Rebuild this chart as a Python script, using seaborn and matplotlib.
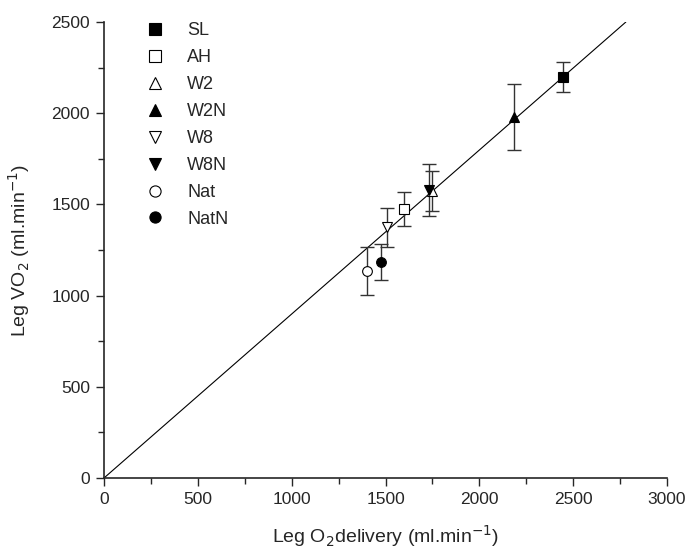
"""
Leg VO2 vs leg O2 delivery, group means with SD bars
"""

import numpy as np
import pandas as pd
import matplotlib
matplotlib.use("Agg")
import matplotlib.pyplot as plt
import seaborn as sns

sns.set_style("ticks")
plt.rcParams['font.family'] = ['Liberation Sans', 'DejaVu Sans']

groups = ['SL', 'AH', 'W2', 'W2N', 'W8', 'W8N', 'Nat', 'NatN']
o2_delivery = [2445, 1598, 1747, 2184, 1508, 1732, 1401, 1476]
vo2 = [2198, 1475, 1573, 1979, 1376, 1579, 1135, 1184]
vo2_err = [80, 93, 110, 181, 107, 143, 130, 98]
markers = ['s', 's', '^', '^', 'v', 'v', 'o', 'o']
filled = [True, False, False, True, False, True, False, True]

# fitted line through origin
line_x = [0, 2781]
line_slope = 0.899

df = pd.DataFrame({'group': groups, 'x': o2_delivery, 'y': vo2, 'err': vo2_err})

fig = plt.figure(figsize=(6.87, 5.53), dpi=100)
ax = fig.add_axes([104 / 687, 1 - 478 / 553, 563 / 687, 456 / 553])

line_df = pd.DataFrame({'x': line_x, 'y': np.array(line_x) * line_slope})
sns.lineplot(data=line_df, x='x', y='y', color='black', linewidth=0.8, ax=ax)

for i, row in df.iterrows():
    ax.errorbar(row['x'], row['y'], yerr=row['err'], fmt='none', ecolor='#333333',
                elinewidth=1, capsize=5, capthick=1, zorder=2)
    face = 'black' if filled[i] else 'white'
    ax.plot(row['x'], row['y'], marker=markers[i], markersize=7, markerfacecolor=face,
            markeredgecolor='black', markeredgewidth=0.8, linestyle='none',
            label=row['group'], zorder=3)

ax.set_xlim(0, 3000)
ax.set_ylim(0, 2500)
ax.set_xticks(np.arange(0, 3001, 500))
ax.set_yticks(np.arange(0, 2501, 500))
ax.set_xticks(np.arange(250, 3000, 500), minor=True)
ax.set_yticks(np.arange(250, 2500, 500), minor=True)
ax.tick_params(which='major', direction='out', length=6, width=1, labelsize=12.5, pad=4)
ax.tick_params(which='minor', direction='out', length=4, width=1)
for s in ['left', 'bottom']:
    ax.spines[s].set_linewidth(1.2)
sns.despine(ax=ax)

ax.set_xlabel('Leg O$_2$delivery (ml.min$^{-1}$)', fontsize=14, labelpad=12)
ax.set_ylabel('Leg VO$_2$ (ml.min$^{-1}$)', fontsize=14, labelpad=14)

ax.legend(loc='upper left', bbox_to_anchor=(0.045, 1.035), frameon=False, fontsize=13,
          markerscale=1.15, handletextpad=1.3, labelspacing=0.55, handlelength=1.0)

fig.savefig('out.png', dpi=100)
